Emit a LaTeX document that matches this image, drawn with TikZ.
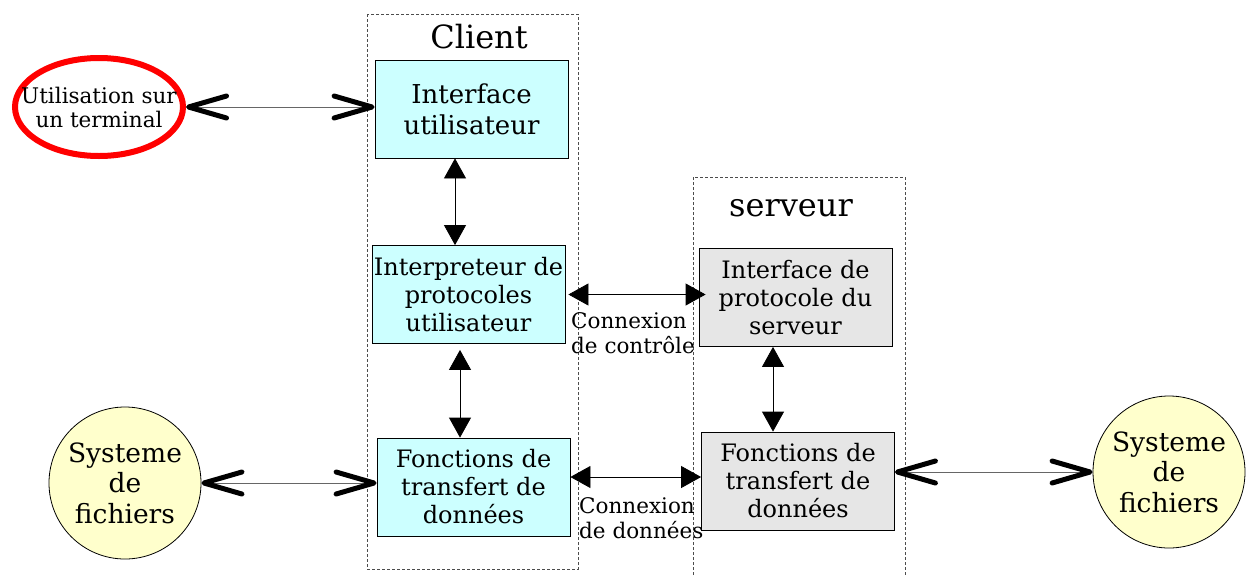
\documentclass[tikz,border=0pt]{standalone}
\usepackage{fontspec}
\setmainfont{DejaVu Serif}
\usetikzlibrary{arrows.meta,shapes.geometric}

\definecolor{clientfill}{HTML}{CCFFFF}
\definecolor{serveurfill}{HTML}{E6E6E6}
\definecolor{fichierfill}{HTML}{FFFFCC}

\tikzset{
  boite/.style={draw=black, line width=0.8pt, minimum width=193pt,
    minimum height=98pt, inner sep=0pt, align=center,
    font=\fontsize{24}{28}\selectfont},
  zone/.style={draw=black!70, line width=0.8pt, dash pattern=on 3pt off 2pt},
  titre/.style={font=\fontsize{32}{36}\selectfont},
  etiquette/.style={anchor=north west, align=left, inner sep=0pt,
    font=\fontsize{21.5}{25}\selectfont},
  fichier/.style={circle, draw=black, line width=0.8pt, fill=fichierfill,
    minimum size=152pt, inner sep=-10pt, align=center,
    font=\fontsize{26.5}{30.5}\selectfont},
  fleche/.style={line width=0.8pt,
    {Triangle[length=20pt,width=22pt]}-{Triangle[length=20pt,width=22pt]}},
  grosse/.style={draw=black!60, line width=0.8pt,
    {Straight Barb[length=38pt,width=22pt,line width=5pt,color=black,round]}-{Straight Barb[length=38pt,width=22pt,line width=5pt,color=black,round]}}
}

\begin{document}
\begin{tikzpicture}[x=1pt,y=-1pt]
  \useasboundingbox (0,0) rectangle (1246,576);

  % zones
  \draw[zone] (367,14) rectangle (578,569);
  \draw[zone] (693,590) -- (693,177) -- (905,177) -- (905,590);
  \node[titre] (client) at (479,37) {Client};
  \node[titre] (serveur) at (791,208) {serveur};

  % client
  \node[boite, fill=clientfill, font=\fontsize{26}{31}\selectfont] (iu) at (471.5,109) {Interface\\utilisateur};
  \node[boite, fill=clientfill] (ipu) at (468.5,294.5) {Interpreteur de\\protocoles\\utilisateur};
  \node[boite, fill=clientfill] (fcl) at (473.5,487) {Fonctions de\\transfert de\\données};

  % serveur
  \node[boite, fill=serveurfill] (ips) at (795.5,297.5) {Interface de\\protocole du\\serveur};
  \node[boite, fill=serveurfill] (fsv) at (798,481) {Fonctions de\\transfert de\\données};

  % utilisateur et fichiers
  \node[ellipse, draw=red, line width=6pt, minimum width=168pt,
    minimum height=98pt, inner xsep=-22pt, inner ysep=-6pt, align=center,
    font=\fontsize{21.5}{24}\selectfont] (terminal) at (99,107)
    {Utilisation sur\\un terminal};
  \node[fichier] (fsl) at (125,483) {Systeme\\de\\fichiers};
  \node[fichier] (fsr) at (1169,472) {Systeme\\de\\fichiers};

  % connexions
  \draw[grosse] (terminal.east) -- (terminal.east -| iu.west);
  \draw[grosse] (fsl.east) -- (fsl.east -| fcl.west);
  \draw[grosse] (fsr.west -| fsv.east) -- (fsr.west);

  \draw[fleche] ([xshift=-16.5pt]iu.south) -- ([xshift=-16.5pt]iu.south |- ipu.north);
  \draw[fleche] ([shift={(-8.5,6)}]ipu.south) -- ([xshift=-8.5pt]ipu.south |- fcl.north);
  \draw[fleche] ([xshift=-22.5pt]ips.south) -- ([xshift=-22.5pt]ips.south |- fsv.north);
  \draw[fleche] ([xshift=3pt]ipu.east) -- ([xshift=7pt]ipu.east -| ips.west);
  \draw[fleche] ([shift={(0,-10)}]fcl.east) -- ([shift={(0,-10)}]fcl.east -| fsv.west);

  \node[etiquette] (ctrl) at (571,312) {Connexion\\de contrôle};
  \node[etiquette] (donnees) at (579,497) {Connexion\\de données};
\end{tikzpicture}
\end{document}
